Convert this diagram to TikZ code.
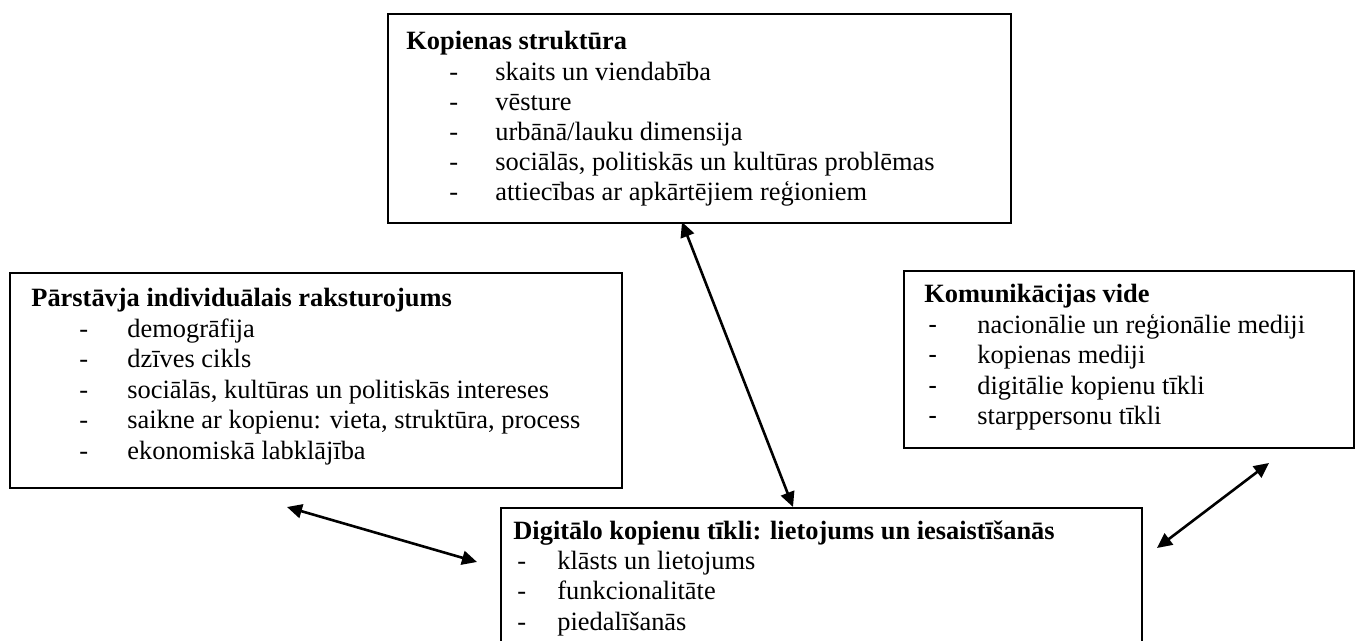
\documentclass[tikz,border=0pt]{standalone}
\usepackage{fontspec}
\setmainfont{Liberation Serif}
\newfontfamily\dashfont{Liberation Sans}
\usetikzlibrary{arrows.meta}
\tikzset{
  box/.style={draw=black, line width=1pt, fill=none, anchor=north west, inner sep=0pt},
  txt/.style={anchor=base west, inner sep=0pt, font=\fontsize{13.2pt}{15.2pt}\selectfont},
  ttl/.style={txt, font=\fontsize{13.2pt}{15.2pt}\selectfont\bfseries},
  dbl/.style={line width=1.3pt, {Triangle[length=7.5pt,width=7pt]}-{Triangle[length=7.5pt,width=7pt]}}
}
\begin{document}
\begin{tikzpicture}[x=0.5pt, y=-0.5pt]
\clip (0,0) rectangle (1355,641);
\fill[white] (0,0) rectangle (1355,641);
% boxes
\node[box, minimum width=311.5pt, minimum height=104.5pt] (topbox) at (387,13) {};
\node[box, minimum width=306pt, minimum height=107.5pt] (leftbox) at (9,272) {};
\node[box, minimum width=225pt, minimum height=88.5pt] (rightbox) at (903,270) {};
\node[box, minimum width=320.5pt, minimum height=110pt] (botbox) at (500,507) {};
% top box text
\node[ttl] (t0) at (406,50) {Kopienas struktūra};
\foreach \s [count=\i] in {{skaits un viendabība},{vēsture},{urbānā/lauku dimensija},{sociālās, politiskās un kultūras problēmas},{attiecības ar apkārtējiem reģioniem}}{
  \node[txt] (td\i) at (449,50+30.2*\i) {-};
  \node[txt] (t\i) at (495,50+30.2*\i) {\s};
}
% left box text
\node[ttl] (l0) at (31,307) {Pārstāvja individuālais raksturojums};
\foreach \s [count=\i] in {{demogrāfija},{dzīves cikls},{sociālās, kultūras un politiskās intereses},{saikne ar kopienu: vieta, struktūra, process},{ekonomiskā labklājība}}{
  \node[txt] (ld\i) at (79,307+30.4*\i) {-};
  \node[txt] (l\i) at (127,307+30.4*\i) {\s};
}
% right box text
\node[ttl] (r0) at (924,303) {Komunikācijas vide};
\foreach \s [count=\i] in {{nacionālie un reģionālie mediji},{kopienas mediji},{digitālie kopienu tīkli},{starppersonu tīkli}}{
  \node[txt] (rd\i) at (928,303+30.4*\i) {\dashfont -};
  \node[txt] (r\i) at (977,303+30.4*\i) {\s};
}
% bottom box text
\node[ttl] (b0) at (513,539) {Digitālo kopienu tīkli: lietojums un iesaistīšanās};
\foreach \s [count=\i] in {{klāsts un lietojums},{funkcionalitāte},{piedalīšanās}}{
  \node[txt] (bd\i) at (517,539+30.4*\i) {-};
  \node[txt] (b\i) at (557,539+30.4*\i) {\s};
}
% connectors
\coordinate (vtop) at (682,222);
\coordinate (vbot) at (793,507);
\coordinate (la) at (287,507);
\coordinate (lb) at (477,562);
\coordinate (ra) at (1269,463);
\coordinate (rb) at (1157,548);
\draw[dbl] (vtop) -- (vbot);
\draw[dbl] (la) -- (lb);
\draw[dbl] (ra) -- (rb);
\end{tikzpicture}
\end{document}
